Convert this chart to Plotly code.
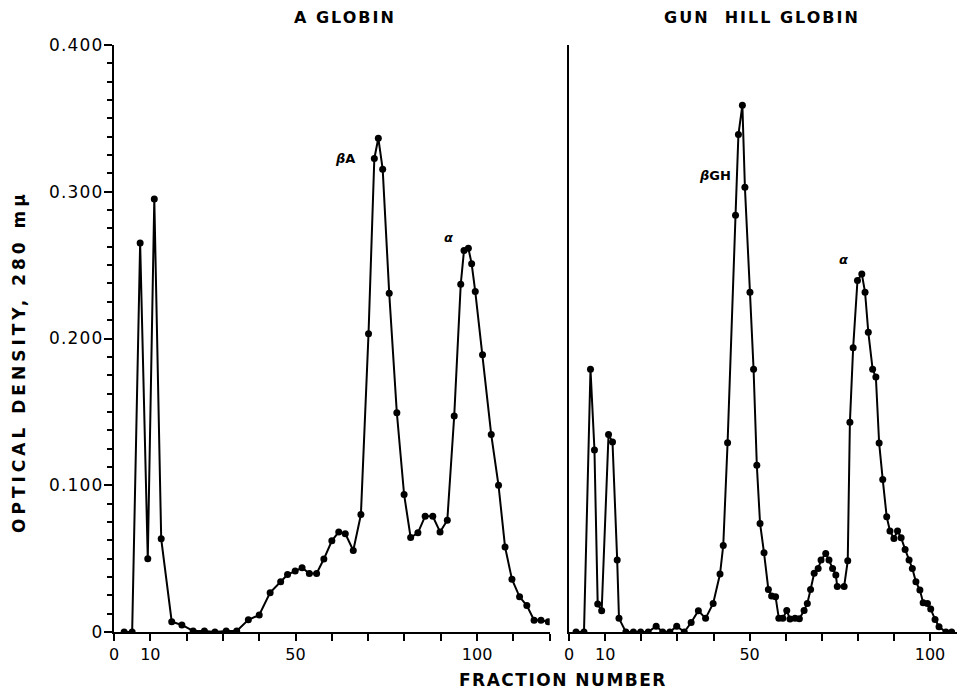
import plotly.graph_objects as go

# Hemoglobin A globin chromatogram (fraction number vs optical density at 280 mμ)
a_fraction = [2.8, 5.0, 7.2, 9.3, 11.1, 13.0, 15.9, 18.7, 21.8, 24.9, 27.8,
              30.9, 33.8, 37.0, 40.0, 43.0, 45.9, 47.8, 49.9, 51.8, 53.8,
              55.8, 57.8, 60.0, 61.9, 63.7, 65.9, 68.0, 70.1, 71.7, 72.8,
              74.0, 75.8, 77.9, 79.9, 81.7, 83.7, 85.7, 87.8, 89.8, 91.8,
              93.7, 95.5, 96.4, 97.6, 98.5, 99.5, 101.5, 103.9, 105.9, 107.7,
              109.6, 111.7, 113.7, 115.7, 117.6, 119.6]
a_od = [0, 0, 0.265, 0.050, 0.295, 0.0635, 0.007, 0.0048, 0.0007, 0.0007, 0,
        0.0007, 0.0007, 0.0083, 0.0116, 0.0268, 0.0342, 0.0392, 0.0415, 0.0438, 0.0399,
        0.0399, 0.0497, 0.0621, 0.0682, 0.0670, 0.0555, 0.080, 0.2032, 0.3227, 0.3365,
        0.3154, 0.2308, 0.1494, 0.0937, 0.0644, 0.0676, 0.0789, 0.0789, 0.0682, 0.0762,
        0.1472, 0.237, 0.260, 0.2615, 0.251, 0.232, 0.189, 0.1345, 0.100, 0.058,
        0.036, 0.024, 0.018, 0.008, 0.008, 0.007]

# Hemoglobin Gun Hill globin chromatogram
gh_fraction = [1.9, 4.1, 5.9, 7.0, 7.9, 9.0, 10.9, 12.0, 13.3, 13.8,
               15.7, 17.8, 19.8, 21.9, 24.1, 25.9, 27.9, 29.8, 31.9, 33.8,
               35.8, 37.8, 39.9, 41.8, 42.7, 43.9, 46.1, 46.9, 48.0, 48.7,
               50.1, 51.1, 52.0, 52.9, 54.0, 55.2, 56.1, 57.2, 58.1, 59.2,
               60.3, 61.2, 62.6, 63.8, 65.1, 66.0, 66.9, 67.9, 69.0, 69.8,
               71.1, 72.0, 73.0, 73.9, 74.3, 76.2, 77.2, 77.8, 78.7, 79.9,
               81.1, 82.0, 82.9, 84.1, 85.0, 85.9, 86.9, 88.0, 88.9, 90.0,
               91.0, 92.0, 93.1, 94.2, 95.1, 96.1, 97.2, 98.1, 99.3, 100.2,
               101.4, 102.5, 104.4, 106.0]
gh_od = [0, 0, 0.179, 0.124, 0.019, 0.0145, 0.1345, 0.1295, 0.049, 0.0093,
         0, 0, 0, 0, 0.004, 0, 0, 0.004, 0, 0.0065,
         0.0145, 0.0093, 0.0195, 0.0395, 0.059, 0.129, 0.284, 0.339, 0.359, 0.303,
         0.2315, 0.179, 0.1136, 0.074, 0.054, 0.029, 0.0245, 0.024, 0.0093, 0.0093,
         0.0146, 0.0088, 0.0093, 0.009, 0.0146, 0.0195, 0.029, 0.040, 0.0433, 0.049,
         0.0535, 0.049, 0.0433, 0.0388, 0.031, 0.031, 0.0485, 0.143, 0.1937, 0.2395,
         0.244, 0.2315, 0.2043, 0.179, 0.1737, 0.1288, 0.1039, 0.0785, 0.0689, 0.0637,
         0.0689, 0.0642, 0.0563, 0.049, 0.0433, 0.0342, 0.0286, 0.02, 0.0195, 0.0156,
         0.0086, 0.0036, 0, 0]

x_ticks = list(range(0, 130, 10))
x_tick_labels = ["0", "10", "", "", "", "50", "", "", "", "", "100", "", ""]
y_ticks = [0, 0.1, 0.2, 0.3, 0.4]
y_tick_labels = ["0", "0.100", "0.200", "0.300", "0.400"]

W, H = 960, 690
FONT = "DejaVu Sans"


def px_x(p):
    return p / W


def px_y(p):
    return 1 - p / H


def spaced(text, gap, bold=True):
    # text with extra letter spacing, as in hand-lettered captions
    inner = f"<b>{text}</b>" if bold else text
    return f"<span style='letter-spacing:{gap}px'>{inner}</span>"


fig = go.Figure()

line_style = dict(color="black", width=2)
marker_style = dict(color="black", size=7, symbol="circle")

fig.add_trace(go.Scatter(x=a_fraction, y=a_od, mode="lines+markers",
                         line=line_style, marker=marker_style,
                         xaxis="x", yaxis="y", showlegend=False))
fig.add_trace(go.Scatter(x=gh_fraction, y=gh_od, mode="lines+markers",
                         line=line_style, marker=marker_style,
                         xaxis="x2", yaxis="y2", showlegend=False))

y_dom = [px_y(632), px_y(45)]
axis_common = dict(showgrid=False, zeroline=False, showline=True,
                   linecolor="black", linewidth=2, ticks="outside",
                   tickcolor="black", tickwidth=1.5, automargin=False)

fig.update_layout(
    width=W, height=H,
    margin=dict(l=0, r=0, t=0, b=0, autoexpand=False),
    paper_bgcolor="white", plot_bgcolor="white",
    xaxis=dict(domain=[px_x(114), px_x(549.7)], range=[0, 120],
               tickmode="array", tickvals=x_ticks, ticktext=x_tick_labels,
               ticklen=7, anchor="y",
               tickfont=dict(family=FONT, size=16, color="black"),
               **axis_common),
    yaxis=dict(domain=y_dom, range=[0, 0.4], tickmode="array",
               tickvals=y_ticks,
               ticktext=[spaced(t, 1.2, bold=False) for t in y_tick_labels],
               ticklen=8, ticklabelstandoff=-3,
               tickfont=dict(family=FONT, size=17, color="black"),
               minor=dict(tickmode="array",
                          tickvals=[i * 0.0125 for i in range(33)],
                          ticklen=5, ticks="outside", tickcolor="black",
                          tickwidth=1.5),
               anchor="x", **axis_common),
    xaxis2=dict(domain=[px_x(569.2), px_x(956.7)], range=[0, 107.4],
                tickmode="array", tickvals=x_ticks, ticktext=x_tick_labels,
                ticklen=7, anchor="y2",
                tickfont=dict(family=FONT, size=16, color="black"),
                **axis_common),
    yaxis2=dict(domain=y_dom, range=[0, 0.4], anchor="x2", automargin=False,
                showgrid=False, zeroline=False, showline=True,
                linecolor="black", linewidth=2, ticks="",
                showticklabels=False),
)

annotations = [
    dict(text=spaced("A GLOBIN", 2), x=px_x(345), y=px_y(18),
         font=dict(family=FONT, size=16, color="black")),
    dict(text=spaced("GUN  HILL GLOBIN", 2), x=px_x(762), y=px_y(18),
         font=dict(family=FONT, size=16, color="black")),
    dict(text=spaced("FRACTION NUMBER", 1.5), x=px_x(563), y=px_y(680),
         font=dict(family=FONT, size=17, color="black")),
    dict(text=spaced("OPTICAL DENSITY, 280 mμ", 4), x=px_x(19), y=px_y(362),
         textangle=-90, font=dict(family=FONT, size=17, color="black")),
]
for a in annotations:
    a.update(xref="paper", yref="paper", showarrow=False,
             xanchor="center", yanchor="middle")

label_font = dict(family=FONT, size=13, color="black")
peak_labels = [
    dict(text="<b><i>β</i>A</b>", x=63.6, y=0.3224, xref="x", yref="y"),
    dict(text="<b><i>α</i></b>", x=92.0, y=0.269, xref="x", yref="y"),
    dict(text="<b><i>β</i>GH</b>", x=40.4, y=0.311, xref="x2", yref="y2"),
    dict(text="<b><i>α</i></b>", x=75.9, y=0.254, xref="x2", yref="y2"),
]
for a in peak_labels:
    a.update(showarrow=False, font=label_font, xanchor="center", yanchor="middle")

fig.update_layout(annotations=annotations + peak_labels)

fig.write_html("out.html")
